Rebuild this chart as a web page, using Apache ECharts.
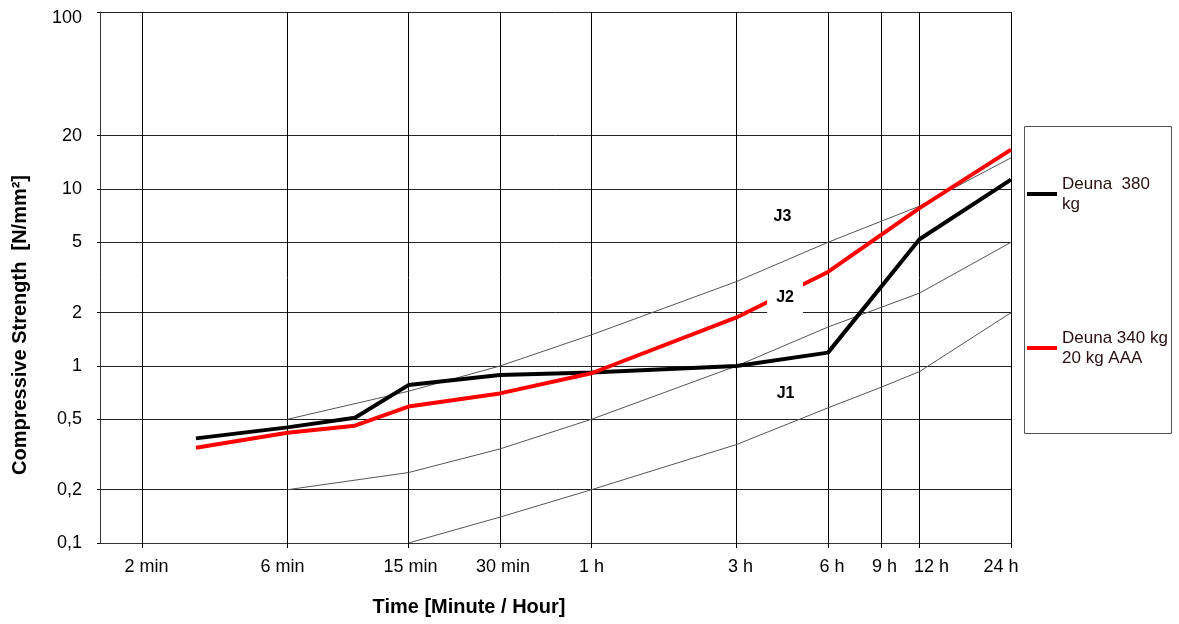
<!DOCTYPE html>
<html>
<head>
<meta charset="utf-8">
<script src="https://cdn.jsdelivr.net/npm/echarts@6/dist/echarts.min.js"></script>
<style>
html,body{margin:0;padding:0;background:#fff;}
#chart{width:1179px;height:624px;}
</style>
</head>
<body>
<div id="chart"></div>
<script>
// ---- data (time in minutes, strength in N/mm²) ----
const xTickValues = [2, 6, 15, 30, 60, 180, 360, 540, 720, 1440];
const xTickLabels = ['2 min', '6 min', '15 min', '30 min', '1 h', '3 h', '6 h', '9 h', '12 h', '24 h'];
const yTickValues = [0.1, 0.2, 0.5, 1, 2, 5, 10, 20, 100];
const yTickLabels = ['0,1', '0,2', '0,5', '1', '2', '5', '10', '20', '100'];

const seriesTimes = [3, 6, 10, 15, 30, 60, 180, 360, 720, 1440];
const deuna380 = [0.39, 0.45, 0.51, 0.78, 0.89, 0.92, 1.0, 1.19, 5.2, 11.3];
const deuna340aaa = [0.345, 0.42, 0.46, 0.59, 0.70, 0.91, 1.88, 3.4, 7.8, 16.7];

const j3Times = [6, 15, 30, 60, 180, 360, 720, 1440];
const j3Values = [0.5, 0.72, 1.0, 1.5, 3.0, 5.0, 8.0, 15];
const j2Times = [6, 15, 30, 60, 180, 360, 720, 1440];
const j2Values = [0.2, 0.25, 0.34, 0.5, 1.0, 1.66, 2.58, 5.0];
const j1Times = [15, 30, 60, 180, 360, 540, 720, 1440];
const j1Values = [0.1, 0.14, 0.2, 0.36, 0.58, 0.76, 0.93, 2.0];

const jLabelNames = ['J3', 'J2', 'J1'];
const jLabelTimes = [255, 260, 261];
const jLabelValues = [6.95, 2.45, 0.70];

const seriesNames = ['Deuna  380 kg', 'Deuna 340 kg 20 kg AAA'];
const legendTexts = ['Deuna  380\nkg', 'Deuna 340 kg\n20 kg AAA'];

// ---- label nudges (pixels, layout only) ----
const xLabelShift = [4, -5, 2, 3, 0, 4, 4, 3, 12, -10];

// ---- helpers ----
function zip(xs, ys) { return xs.map((x, i) => [x, ys[i]]); }
function findIdx(vals, v) { return vals.findIndex(t => Math.abs(t - v) / t < 1e-6); }
const FONT = 'Liberation Sans, Arial, sans-serif';

const xRich = {};
xLabelShift.forEach((d, i) => {
  xRich['s' + i] = {
    fontFamily: FONT, fontSize: 18, color: '#000',
    padding: d >= 0 ? [0, 0, 0, 2 * d] : [0, -2 * d, 0, 0]
  };
});

const chart = echarts.init(document.getElementById('chart'), null, {renderer: 'canvas'});

const thinLine = {color: '#555', width: 1};
const legendText = {fontFamily: FONT, fontSize: 17, color: '#2a1010', lineHeight: 20, padding: [20, 0, 0, 0]};

const option = {
  animation: false,
  backgroundColor: '#fff',
  grid: {left: 100, right: 168, top: 12, bottom: 81, containLabel: false},
  xAxis: {
    type: 'log',
    logBase: 10,
    min: 1.45,
    max: 1440,
    axisLine: {show: true, onZero: false, lineStyle: {color: '#333', width: 1}},
    axisTick: {show: true, length: 5, customValues: xTickValues, lineStyle: {color: '#000'}},
    axisLabel: {
      customValues: xTickValues,
      margin: 15,
      color: '#000',
      fontFamily: FONT,
      fontSize: 18,
      rich: xRich,
      formatter: v => {
        const i = findIdx(xTickValues, v);
        return i >= 0 ? '{s' + i + '|' + xTickLabels[i] + '}' : '';
      }
    },
    splitLine: {show: true, lineStyle: {color: '#000', width: 1}},
    minorSplitLine: {show: false}
  },
  yAxis: {
    type: 'log',
    logBase: 10,
    min: 0.1,
    max: 100,
    axisLine: {show: true, onZero: false, lineStyle: {color: '#333', width: 1}},
    axisTick: {show: true, length: 3, customValues: yTickValues, lineStyle: {color: '#000'}},
    axisLabel: {
      customValues: yTickValues,
      margin: 18,
      color: '#000',
      fontFamily: FONT,
      fontSize: 18,
      rich: {
        top: {fontFamily: FONT, fontSize: 18, color: '#000', padding: [12, 0, 0, 0]}
      },
      formatter: v => {
        const i = findIdx(yTickValues, v);
        if (i < 0) return '';
        return i === yTickValues.length - 1 ? '{top|' + yTickLabels[i] + '}' : yTickLabels[i];
      }
    },
    splitLine: {show: true, lineStyle: {color: '#222', width: 1}},
    minorSplitLine: {show: false}
  },
  legend: [
    {
      data: [seriesNames[0]],
      left: 1027, top: 164, padding: 0,
      icon: 'rect', itemWidth: 30, itemHeight: 4,
      selectedMode: false,
      formatter: () => legendTexts[0],
      textStyle: legendText
    },
    {
      data: [seriesNames[1]],
      left: 1027, top: 318, padding: 0,
      icon: 'rect', itemWidth: 30, itemHeight: 4,
      selectedMode: false,
      formatter: () => legendTexts[1],
      textStyle: legendText
    }
  ],
  graphic: [
    {
      type: 'rect', z: -1,
      shape: {x: 1024.5, y: 126.5, width: 147, height: 307},
      style: {fill: '#fff', stroke: '#555', lineWidth: 1}
    },
    {
      type: 'text',
      x: 469, y: 607,
      style: {text: 'Time [Minute / Hour]', fontFamily: FONT, fontSize: 20, fontWeight: 'bold', fill: '#000', align: 'center', verticalAlign: 'middle'}
    },
    {
      type: 'text',
      x: 20, y: 325, rotation: Math.PI / 2,
      style: {text: 'Compressive Strength  [N/mm²]', fontFamily: FONT, fontSize: 20, fontWeight: 'bold', fill: '#000', align: 'center', verticalAlign: 'middle'}
    }
  ],
  series: [
    {name: 'J3', type: 'line', data: zip(j3Times, j3Values), showSymbol: false, silent: true, lineStyle: thinLine, z: 2},
    {name: 'J2', type: 'line', data: zip(j2Times, j2Values), showSymbol: false, silent: true, lineStyle: thinLine, z: 2},
    {name: 'J1', type: 'line', data: zip(j1Times, j1Values), showSymbol: false, silent: true, lineStyle: thinLine, z: 2},
    {name: seriesNames[0], type: 'line', data: zip(seriesTimes, deuna380), showSymbol: false, color: '#000', lineStyle: {color: '#000', width: 4}, z: 4},
    {name: seriesNames[1], type: 'line', data: zip(seriesTimes, deuna340aaa), showSymbol: false, color: '#ff0000', lineStyle: {color: '#ff0000', width: 4}, z: 4},
    {
      name: 'labels', type: 'scatter', z: 6, symbolSize: 0, silent: true,
      itemStyle: {opacity: 1},
      data: jLabelNames.map((n, i) => ({
        name: n, value: [jLabelTimes[i], jLabelValues[i]],
        label: n === 'J2' ? {backgroundColor: '#fff', padding: [12, 9, 4, 9]} : {}
      })),
      label: {show: true, position: 'inside', formatter: p => p.name, fontFamily: FONT, fontSize: 16, fontWeight: 'bold', color: '#000', opacity: 1}
    }
  ]
};
chart.setOption(option);
</script>
</body>
</html>
